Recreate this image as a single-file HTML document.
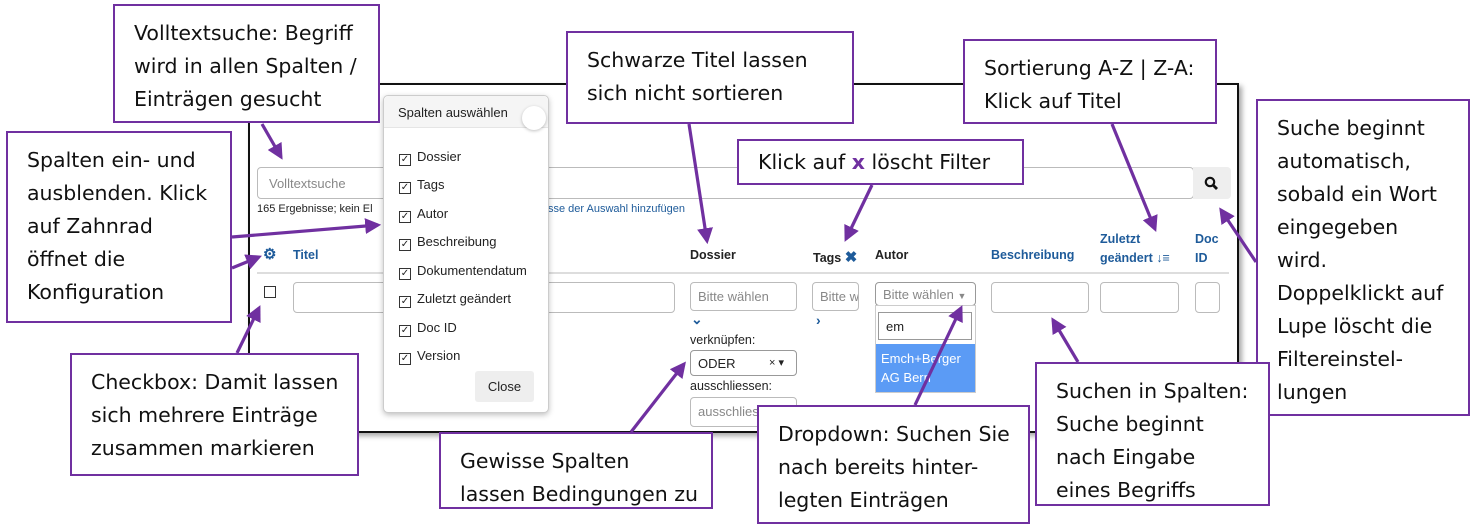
<!DOCTYPE html>
<html><head><meta charset="utf-8"><style>
*{box-sizing:border-box;margin:0;padding:0}
body{width:1475px;height:530px;background:#fff;position:relative;overflow:hidden;font-family:"Liberation Sans",Arial,sans-serif}
.a{position:absolute}
.frame{left:248px;top:83px;width:991px;height:350px;border:2px solid #111;box-shadow:3px 3px 5px rgba(0,0,0,.35)}
.co{position:absolute;background:#fff;border:2px solid #7030a0;font-family:"DejaVu Sans",sans-serif;font-size:20.5px;line-height:33px;color:#111;padding:11px 0 0 19px;white-space:nowrap}
.inp{position:absolute;border:1px solid #bbb;border-radius:4px;background:#fff;font-size:13px;color:#888;padding:6px 7px;white-space:nowrap;overflow:hidden}
.s{font-size:12.5px;color:#222}
.h{font-size:12.5px;font-weight:bold;color:#222}
.b{color:#1e5b9a}
.pop{left:383px;top:95px;width:166px;height:318px;border:1px solid #ccc;border-radius:5px;background:#fff;box-shadow:0 2px 6px rgba(0,0,0,.25)}
.it{position:absolute;left:15px;font-size:13px;color:#222}
.cb{display:inline-block;width:12px;height:12px;border:1px solid #333;margin-right:6px;vertical-align:-1px;font-size:10px;line-height:10px;text-align:center}
</style></head><body>
<div class="a frame"></div>

<!-- search -->
<div class="inp" style="left:257px;top:167px;width:937px;height:32px;padding:8px 11px">Volltextsuche</div>
<div class="a" style="left:1193px;top:167px;width:38px;height:32px;background:#eee;border-radius:0 4px 4px 0"></div>
<svg class="a" style="left:1204px;top:176px" width="16" height="16"><circle cx="6" cy="6" r="4.2" stroke="#111" stroke-width="2.2" fill="none"/><line x1="9" y1="9" x2="13" y2="13" stroke="#111" stroke-width="2.8"/></svg>
<div class="a s" style="left:257px;top:203px;font-size:11px">165 Ergebnisse; kein El</div>
<div class="a b" style="left:548px;top:203px;font-size:11px">sse der Auswahl hinzufügen</div>

<!-- header -->
<div class="a b" style="left:263px;top:245px;font-size:15px;font-weight:bold">&#9881;</div>
<div class="a h b" style="left:293px;top:248px">Titel</div>
<div class="a h" style="left:690px;top:248px">Dossier</div>
<div class="a h" style="left:813px;top:248px">Tags <span class="b" style="font-size:15px">&#10006;</span></div>
<div class="a h" style="left:875px;top:248px">Autor</div>
<div class="a h b" style="left:991px;top:248px">Beschreibung</div>
<div class="a h b" style="left:1100px;top:230px;line-height:19px">Zuletzt<br>geändert ↓&#x2261;</div>
<div class="a h b" style="left:1195px;top:230px;line-height:19px">Doc<br>ID</div>
<div class="a" style="left:257px;top:272px;width:972px;height:2px;background:#ddd"></div>

<div class="a" style="left:264px;top:286px;width:12px;height:12px;border:1px solid #333"></div>
<div class="inp" style="left:293px;top:282px;width:382px;height:31px"></div>
<div class="inp" style="left:690px;top:282px;width:107px;height:29px">Bitte wählen</div>
<div class="a b" style="left:691px;top:311px;font-size:14px;font-weight:bold">&#8964;</div>
<div class="a s" style="left:690px;top:333px">verknüpfen:</div>
<div class="inp" style="left:690px;top:350px;width:107px;height:26px;color:#222;border-color:#999;padding:5px 7px">ODER<span style="position:absolute;left:78px;font-size:11px">× ▾</span></div>
<div class="a s" style="left:690px;top:379px">ausschliessen:</div>
<div class="inp" style="left:690px;top:397px;width:107px;height:30px">ausschliessen</div>
<div class="inp" style="left:812px;top:282px;width:47px;height:29px">Bitte w</div>
<div class="a b" style="left:816px;top:312px;font-size:14px;font-weight:bold">&#8250;</div>
<div class="inp" style="left:875px;top:282px;width:101px;height:24px;border-color:#999;padding:4px 7px">Bitte wählen <span style="font-size:9px">▼</span></div>
<div class="a" style="left:875px;top:305px;width:101px;height:88px;border:1px solid #ccc;background:#fff"></div>
<div class="inp" style="left:878px;top:312px;width:94px;height:28px;color:#222;border-color:#999;border-radius:0">em</div>
<div class="a" style="left:876px;top:344px;width:99px;height:48px;background:#5b9bf5;color:#fff;font-size:13px;line-height:19px;padding:5px 5px">Emch+Berger<br>AG Bern</div>
<div class="inp" style="left:991px;top:282px;width:98px;height:31px"></div>
<div class="inp" style="left:1100px;top:282px;width:79px;height:31px"></div>
<div class="inp" style="left:1195px;top:282px;width:25px;height:31px"></div>

<!-- popup -->
<div class="a pop">
 <div class="a" style="left:0;top:0;width:164px;height:32px;background:#f5f5f5;border-radius:5px 5px 0 0;border-bottom:1px solid #e5e5e5"></div>
 <div class="a" style="left:14px;top:9px;font-size:13px;color:#222">Spalten auswählen</div>
 <div class="a" style="left:138px;top:10px;width:24px;height:24px;border-radius:50%;background:#fff;box-shadow:0 1px 3px rgba(0,0,0,.25)"></div>
 <div class="it" style="top:53px"><span class="cb">✓</span>Dossier</div>
 <div class="it" style="top:81px"><span class="cb">✓</span>Tags</div>
 <div class="it" style="top:110px"><span class="cb">✓</span>Autor</div>
 <div class="it" style="top:138px"><span class="cb">✓</span>Beschreibung</div>
 <div class="it" style="top:167px"><span class="cb">✓</span>Dokumentendatum</div>
 <div class="it" style="top:195px"><span class="cb">✓</span>Zuletzt geändert</div>
 <div class="it" style="top:224px"><span class="cb">✓</span>Doc ID</div>
 <div class="it" style="top:252px"><span class="cb">✓</span>Version</div>
 <div class="a" style="left:91px;top:275px;width:59px;height:31px;background:#eee;border-radius:3px;font-size:13px;text-align:center;line-height:31px;color:#222">Close</div>
</div>

<!-- callouts -->
<div class="co" style="left:113px;top:4px;width:267px;height:119px">Volltextsuche: Begriff<br>wird in allen Spalten /<br>Einträgen gesucht</div>
<div class="co" style="left:6px;top:131px;width:226px;height:192px">Spalten ein- und<br>ausblenden. Klick<br>auf Zahnrad<br>öffnet die<br>Konfiguration</div>
<div class="co" style="left:566px;top:31px;width:288px;height:93px">Schwarze Titel lassen<br>sich nicht sortieren</div>
<div class="co" style="left:963px;top:39px;width:254px;height:85px">Sortierung A-Z | Z-A:<br>Klick auf Titel</div>
<div class="co" style="left:737px;top:139px;width:287px;height:46px;padding-top:5px">Klick auf <b style="color:#7030a0">x</b> löscht Filter</div>
<div class="co" style="left:1256px;top:99px;width:214px;height:317px">Suche beginnt<br>automatisch,<br>sobald ein Wort<br>eingegeben<br>wird.<br>Doppelklickt auf<br>Lupe löscht die<br>Filtereinstel-<br>lungen</div>
<div class="co" style="left:70px;top:353px;width:289px;height:123px">Checkbox: Damit lassen<br>sich mehrere Einträge<br>zusammen markieren</div>
<div class="co" style="left:439px;top:432px;width:274px;height:77px">Gewisse Spalten<br>lassen Bedingungen zu</div>
<div class="co" style="left:757px;top:405px;width:273px;height:119px">Dropdown: Suchen Sie<br>nach bereits hinter-<br>legten Einträgen</div>
<div class="co" style="left:1035px;top:362px;width:235px;height:144px">Suchen in Spalten:<br>Suche beginnt<br>nach Eingabe<br>eines Begriffs</div>

<svg class="a" style="left:0;top:0" width="1475" height="530">
<defs><marker id="m" markerWidth="5" markerHeight="5" refX="4" refY="2.5" orient="auto" markerUnits="strokeWidth"><path d="M0,0L5,2.5L0,5z" fill="#7030a0"/></marker></defs>
<g stroke="#7030a0" stroke-width="3.2" fill="none" marker-end="url(#m)">
<line x1="262" y1="124" x2="281" y2="157"/>
<line x1="232" y1="237" x2="378" y2="225"/>
<line x1="232" y1="268" x2="259" y2="257"/>
<line x1="237" y1="353" x2="259" y2="308"/>
<line x1="689" y1="124" x2="707" y2="241"/>
<line x1="872" y1="185" x2="846" y2="239"/>
<line x1="1112" y1="124" x2="1155" y2="229"/>
<line x1="1256" y1="262" x2="1221" y2="210"/>
<line x1="631" y1="432" x2="684" y2="364"/>
<line x1="915" y1="405" x2="961" y2="308"/>
<line x1="1078" y1="362" x2="1053" y2="320"/>
</g>
</svg>
</body></html>
